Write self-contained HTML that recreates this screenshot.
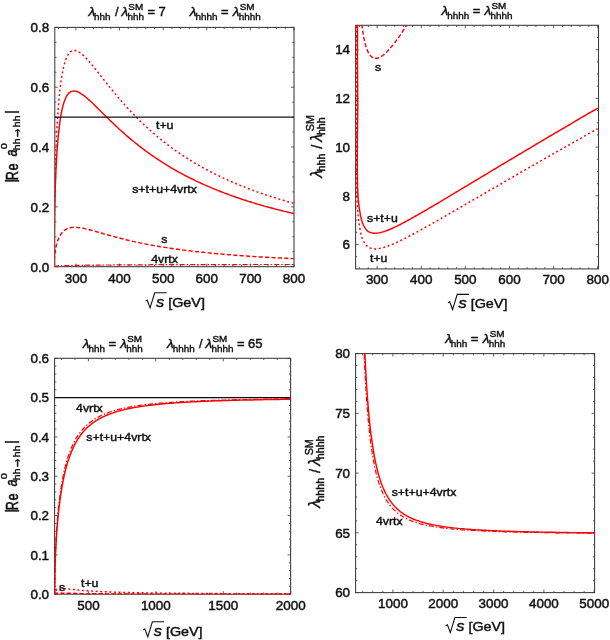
<!DOCTYPE html>
<html><head><meta charset="utf-8"><title>hh→hh unitarity</title>
<style>
html,body{margin:0;padding:0;background:#fff;}
body{width:610px;height:640px;overflow:hidden;}
svg{display:block;}
text{font-family:"Liberation Sans","DejaVu Sans",sans-serif;fill:#111;stroke:#111;stroke-width:0.42px;}
</style></head><body>
<svg width="610" height="640" viewBox="0 0 610 640">
<defs><filter id="soft" x="0" y="0" width="610" height="640" filterUnits="userSpaceOnUse"><feGaussianBlur stdDeviation="0.42"/></filter></defs>
<rect width="610" height="640" fill="#ffffff"/>
<g filter="url(#soft)">
<clipPath id="c1"><rect x="54.70" y="27.10" width="239.60" height="239.80"/></clipPath>
<path d="M75.90 266.70v-3.00M75.90 27.40v3.00M119.52 266.70v-3.00M119.52 27.40v3.00M163.14 266.70v-3.00M163.14 27.40v3.00M206.76 266.70v-3.00M206.76 27.40v3.00M250.38 266.70v-3.00M250.38 27.40v3.00M294.00 266.70v-3.00M294.00 27.40v3.00M58.45 266.70v-1.70M58.45 27.40v1.70M67.18 266.70v-1.70M67.18 27.40v1.70M84.62 266.70v-1.70M84.62 27.40v1.70M93.35 266.70v-1.70M93.35 27.40v1.70M102.07 266.70v-1.70M102.07 27.40v1.70M110.80 266.70v-1.70M110.80 27.40v1.70M128.24 266.70v-1.70M128.24 27.40v1.70M136.97 266.70v-1.70M136.97 27.40v1.70M145.69 266.70v-1.70M145.69 27.40v1.70M154.42 266.70v-1.70M154.42 27.40v1.70M171.86 266.70v-1.70M171.86 27.40v1.70M180.59 266.70v-1.70M180.59 27.40v1.70M189.31 266.70v-1.70M189.31 27.40v1.70M198.04 266.70v-1.70M198.04 27.40v1.70M215.48 266.70v-1.70M215.48 27.40v1.70M224.21 266.70v-1.70M224.21 27.40v1.70M232.93 266.70v-1.70M232.93 27.40v1.70M241.66 266.70v-1.70M241.66 27.40v1.70M259.10 266.70v-1.70M259.10 27.40v1.70M267.83 266.70v-1.70M267.83 27.40v1.70M276.55 266.70v-1.70M276.55 27.40v1.70M285.28 266.70v-1.70M285.28 27.40v1.70M54.80 266.70h3.00M294.00 266.70h-3.00M54.80 206.88h3.00M294.00 206.88h-3.00M54.80 147.05h3.00M294.00 147.05h-3.00M54.80 87.23h3.00M294.00 87.23h-3.00M54.80 27.40h3.00M294.00 27.40h-3.00M54.80 251.74h1.70M294.00 251.74h-1.70M54.80 236.79h1.70M294.00 236.79h-1.70M54.80 221.83h1.70M294.00 221.83h-1.70M54.80 191.92h1.70M294.00 191.92h-1.70M54.80 176.96h1.70M294.00 176.96h-1.70M54.80 162.01h1.70M294.00 162.01h-1.70M54.80 132.09h1.70M294.00 132.09h-1.70M54.80 117.14h1.70M294.00 117.14h-1.70M54.80 102.18h1.70M294.00 102.18h-1.70M54.80 72.27h1.70M294.00 72.27h-1.70M54.80 57.31h1.70M294.00 57.31h-1.70M54.80 42.36h1.70M294.00 42.36h-1.70" stroke="#3a3a3a" stroke-width="0.8" fill="none"/>
<rect x="54.80" y="27.40" width="239.20" height="239.30" fill="none" stroke="#3a3a3a" stroke-width="1.05"/>
<text transform="translate(75.90 282.70) scale(1.13 1)" font-size="11.9" text-anchor="middle">300</text>
<text transform="translate(119.52 282.70) scale(1.13 1)" font-size="11.9" text-anchor="middle">400</text>
<text transform="translate(163.14 282.70) scale(1.13 1)" font-size="11.9" text-anchor="middle">500</text>
<text transform="translate(206.76 282.70) scale(1.13 1)" font-size="11.9" text-anchor="middle">600</text>
<text transform="translate(250.38 282.70) scale(1.13 1)" font-size="11.9" text-anchor="middle">700</text>
<text transform="translate(294.00 282.70) scale(1.13 1)" font-size="11.9" text-anchor="middle">800</text>
<text transform="translate(49.30 271.50) scale(1.13 1)" font-size="11.9" text-anchor="end">0.0</text>
<text transform="translate(49.30 211.68) scale(1.13 1)" font-size="11.9" text-anchor="end">0.2</text>
<text transform="translate(49.30 151.85) scale(1.13 1)" font-size="11.9" text-anchor="end">0.4</text>
<text transform="translate(49.30 92.03) scale(1.13 1)" font-size="11.9" text-anchor="end">0.6</text>
<text transform="translate(49.30 32.20) scale(1.13 1)" font-size="11.9" text-anchor="end">0.8</text>
<path d="M54.1 266.2L54.2 246.1L54.2 237.6L54.3 231.2L54.4 225.8L54.5 221.2L54.5 217.0L54.6 213.2L54.7 209.7L54.8 206.4L54.8 203.4L54.9 200.5L55.0 197.8L55.1 195.2L55.1 192.7L55.2 190.4L55.3 188.2L55.3 186.0L55.4 183.9L55.5 181.9L55.6 180.0L55.6 178.1L55.7 176.3L55.8 174.6L55.9 172.9L55.9 171.3L56.0 169.7L56.1 168.2L56.2 166.7L56.2 165.2L56.3 163.8L56.4 162.4L56.5 161.1L56.5 159.8L56.6 158.5L56.7 157.2L56.8 156.0L56.8 154.8L56.9 153.7L57.0 152.5L57.0 151.4L57.1 150.3L57.2 149.3L57.3 148.3L57.3 147.2L57.4 146.2L57.5 145.3L57.6 144.3L57.6 143.4L57.7 142.5L57.8 141.6L57.9 140.7L57.9 139.8L58.0 139.0L58.1 138.2L58.2 137.3L58.2 136.5L58.3 135.8L58.4 135.0L58.5 134.2L58.5 134.2L59.6 123.8L60.8 115.9L62.0 109.7L63.2 104.9L64.4 101.1L65.6 98.2L66.7 95.9L67.9 94.2L69.1 92.9L70.3 92.0L71.5 91.4L72.7 91.1L73.8 91.0L75.0 91.1L76.2 91.3L77.4 91.7L78.6 92.2L79.8 92.9L80.9 93.6L82.1 94.3L83.3 95.2L84.5 96.1L85.7 97.0L86.9 98.0L88.0 99.1L89.2 100.1L90.4 101.2L91.6 102.3L92.8 103.4L94.0 104.6L95.1 105.7L96.3 106.9L97.5 108.0L98.7 109.2L99.9 110.4L101.1 111.6L102.2 112.7L103.4 113.9L104.6 115.1L105.8 116.2L107.0 117.4L108.2 118.6L109.3 119.7L110.5 120.9L111.7 122.0L112.9 123.1L114.1 124.3L115.3 125.4L116.5 126.5L117.6 127.6L118.8 128.7L120.0 129.8L121.2 130.8L122.4 131.9L123.6 132.9L124.7 134.0L125.9 135.0L127.1 136.1L128.3 137.1L129.5 138.1L130.7 139.1L131.8 140.1L133.0 141.0L134.2 142.0L135.4 143.0L136.6 143.9L137.8 144.9L138.9 145.8L140.1 146.7L141.3 147.6L142.5 148.5L143.7 149.4L144.9 150.3L146.0 151.2L147.2 152.0L148.4 152.9L149.6 153.7L150.8 154.6L152.0 155.4L153.1 156.2L154.3 157.0L155.5 157.8L156.7 158.6L157.9 159.4L159.1 160.2L160.2 161.0L161.4 161.7L162.6 162.5L163.8 163.2L165.0 164.0L166.2 164.7L167.3 165.4L168.5 166.2L169.7 166.9L170.9 167.6L172.1 168.3L173.3 168.9L174.5 169.6L175.6 170.3L176.8 171.0L178.0 171.6L179.2 172.3L180.4 172.9L181.6 173.6L182.7 174.2L183.9 174.8L185.1 175.5L186.3 176.1L187.5 176.7L188.7 177.3L189.8 177.9L191.0 178.5L192.2 179.0L193.4 179.6L194.6 180.2L195.8 180.8L196.9 181.3L198.1 181.9L199.3 182.4L200.5 183.0L201.7 183.5L202.9 184.1L204.0 184.6L205.2 185.1L206.4 185.6L207.6 186.1L208.8 186.7L210.0 187.2L211.1 187.7L212.3 188.2L213.5 188.7L214.7 189.1L215.9 189.6L217.1 190.1L218.2 190.6L219.4 191.0L220.6 191.5L221.8 192.0L223.0 192.4L224.2 192.9L225.3 193.3L226.5 193.8L227.7 194.2L228.9 194.6L230.1 195.1L231.3 195.5L232.4 195.9L233.6 196.3L234.8 196.8L236.0 197.2L237.2 197.6L238.4 198.0L239.6 198.4L240.7 198.8L241.9 199.2L243.1 199.6L244.3 200.0L245.5 200.3L246.7 200.7L247.8 201.1L249.0 201.5L250.2 201.8L251.4 202.2L252.6 202.6L253.8 202.9L254.9 203.3L256.1 203.7L257.3 204.0L258.5 204.4L259.7 204.7L260.9 205.0L262.0 205.4L263.2 205.7L264.4 206.1L265.6 206.4L266.8 206.7L268.0 207.0L269.1 207.4L270.3 207.7L271.5 208.0L272.7 208.3L273.9 208.6L275.1 209.0L276.2 209.3L277.4 209.6L278.6 209.9L279.8 210.2L281.0 210.5L282.2 210.8L283.3 211.1L284.5 211.4L285.7 211.6L286.9 211.9L288.1 212.2L289.3 212.5L290.4 212.8L291.6 213.1L292.8 213.3L294.0 213.6" fill="none" stroke="#ff0000" stroke-width="1.45" clip-path="url(#c1)"/>
<path d="M54.1 266.1L54.2 241.8L54.2 231.6L54.3 223.9L54.4 217.4L54.5 211.8L54.5 206.7L54.6 202.1L54.7 197.9L54.8 194.0L54.8 190.3L54.9 186.8L55.0 183.5L55.1 180.3L55.1 177.4L55.2 174.5L55.3 171.8L55.3 169.2L55.4 166.6L55.5 164.2L55.6 161.9L55.6 159.6L55.7 157.4L55.8 155.3L55.9 153.2L55.9 151.2L56.0 149.3L56.1 147.4L56.2 145.6L56.2 143.8L56.3 142.1L56.4 140.4L56.5 138.7L56.5 137.1L56.6 135.6L56.7 134.0L56.8 132.5L56.8 131.1L56.9 129.6L57.0 128.3L57.0 126.9L57.1 125.6L57.2 124.2L57.3 123.0L57.3 121.7L57.4 120.5L57.5 119.3L57.6 118.1L57.6 117.0L57.7 115.8L57.8 114.7L57.9 113.6L57.9 112.6L58.0 111.5L58.1 110.5L58.2 109.5L58.2 108.5L58.3 107.5L58.4 106.6L58.5 105.6L58.5 105.6L59.6 92.7L60.8 82.7L62.0 74.9L63.2 68.7L64.4 63.9L65.6 60.1L66.7 57.1L67.9 54.9L69.1 53.1L70.3 51.9L71.5 51.1L72.7 50.6L73.8 50.4L75.0 50.5L76.2 50.7L77.4 51.2L78.6 51.8L79.8 52.5L80.9 53.4L82.1 54.4L83.3 55.4L84.5 56.6L85.7 57.7L86.9 59.0L88.0 60.3L89.2 61.6L90.4 63.0L91.6 64.4L92.8 65.8L94.0 67.3L95.1 68.7L96.3 70.2L97.5 71.7L98.7 73.2L99.9 74.7L101.1 76.2L102.2 77.7L103.4 79.2L104.6 80.7L105.8 82.2L107.0 83.7L108.2 85.2L109.3 86.6L110.5 88.1L111.7 89.5L112.9 91.0L114.1 92.4L115.3 93.9L116.5 95.3L117.6 96.7L118.8 98.1L120.0 99.5L121.2 100.8L122.4 102.2L123.6 103.5L124.7 104.9L125.9 106.2L127.1 107.5L128.3 108.8L129.5 110.1L130.7 111.3L131.8 112.6L133.0 113.8L134.2 115.0L135.4 116.3L136.6 117.5L137.8 118.7L138.9 119.8L140.1 121.0L141.3 122.1L142.5 123.3L143.7 124.4L144.9 125.5L146.0 126.6L147.2 127.7L148.4 128.8L149.6 129.9L150.8 130.9L152.0 132.0L153.1 133.0L154.3 134.0L155.5 135.0L156.7 136.0L157.9 137.0L159.1 138.0L160.2 139.0L161.4 139.9L162.6 140.9L163.8 141.8L165.0 142.7L166.2 143.6L167.3 144.5L168.5 145.4L169.7 146.3L170.9 147.2L172.1 148.1L173.3 148.9L174.5 149.8L175.6 150.6L176.8 151.4L178.0 152.2L179.2 153.1L180.4 153.9L181.6 154.6L182.7 155.4L183.9 156.2L185.1 157.0L186.3 157.7L187.5 158.5L188.7 159.2L189.8 160.0L191.0 160.7L192.2 161.4L193.4 162.1L194.6 162.8L195.8 163.5L196.9 164.2L198.1 164.9L199.3 165.6L200.5 166.3L201.7 166.9L202.9 167.6L204.0 168.2L205.2 168.9L206.4 169.5L207.6 170.2L208.8 170.8L210.0 171.4L211.1 172.0L212.3 172.6L213.5 173.2L214.7 173.8L215.9 174.4L217.1 175.0L218.2 175.6L219.4 176.1L220.6 176.7L221.8 177.3L223.0 177.8L224.2 178.4L225.3 178.9L226.5 179.5L227.7 180.0L228.9 180.5L230.1 181.1L231.3 181.6L232.4 182.1L233.6 182.6L234.8 183.1L236.0 183.6L237.2 184.1L238.4 184.6L239.6 185.1L240.7 185.6L241.9 186.0L243.1 186.5L244.3 187.0L245.5 187.4L246.7 187.9L247.8 188.4L249.0 188.8L250.2 189.3L251.4 189.7L252.6 190.1L253.8 190.6L254.9 191.0L256.1 191.4L257.3 191.9L258.5 192.3L259.7 192.7L260.9 193.1L262.0 193.5L263.2 193.9L264.4 194.3L265.6 194.7L266.8 195.1L268.0 195.5L269.1 195.9L270.3 196.3L271.5 196.7L272.7 197.1L273.9 197.4L275.1 197.8L276.2 198.2L277.4 198.5L278.6 198.9L279.8 199.3L281.0 199.6L282.2 200.0L283.3 200.3L284.5 200.7L285.7 201.0L286.9 201.4L288.1 201.7L289.3 202.0L290.4 202.4L291.6 202.7L292.8 203.0L294.0 203.4" fill="none" stroke="#ff0000" stroke-width="1.45" stroke-dasharray="2 2.6" clip-path="url(#c1)"/>
<path d="M54.1 266.6L54.2 262.5L54.2 260.8L54.3 259.5L54.4 258.5L54.5 257.5L54.5 256.7L54.6 255.9L54.7 255.2L54.8 254.5L54.8 253.8L54.9 253.3L55.0 252.7L55.1 252.1L55.1 251.6L55.2 251.1L55.3 250.7L55.3 250.2L55.4 249.8L55.5 249.3L55.6 248.9L55.6 248.5L55.7 248.2L55.8 247.8L55.9 247.4L55.9 247.1L56.0 246.7L56.1 246.4L56.2 246.1L56.2 245.7L56.3 245.4L56.4 245.1L56.5 244.8L56.5 244.5L56.6 244.3L56.7 244.0L56.8 243.7L56.8 243.4L56.9 243.2L57.0 242.9L57.0 242.7L57.1 242.4L57.2 242.2L57.3 242.0L57.3 241.7L57.4 241.5L57.5 241.3L57.6 241.1L57.6 240.9L57.7 240.6L57.8 240.4L57.9 240.2L57.9 240.0L58.0 239.8L58.1 239.6L58.2 239.5L58.2 239.3L58.3 239.1L58.4 238.9L58.5 238.7L58.5 238.7L59.6 236.2L60.8 234.3L62.0 232.7L63.2 231.4L64.4 230.4L65.6 229.6L66.7 228.9L67.9 228.4L69.1 228.0L70.3 227.7L71.5 227.5L72.7 227.4L73.8 227.3L75.0 227.3L76.2 227.4L77.4 227.5L78.6 227.6L79.8 227.7L80.9 227.9L82.1 228.1L83.3 228.3L84.5 228.6L85.7 228.9L86.9 229.1L88.0 229.4L89.2 229.7L90.4 230.0L91.6 230.3L92.8 230.7L94.0 231.0L95.1 231.3L96.3 231.6L97.5 232.0L98.7 232.3L99.9 232.7L101.1 233.0L102.2 233.3L103.4 233.7L104.6 234.0L105.8 234.3L107.0 234.7L108.2 235.0L109.3 235.3L110.5 235.7L111.7 236.0L112.9 236.3L114.1 236.6L115.3 237.0L116.5 237.3L117.6 237.6L118.8 237.9L120.0 238.2L121.2 238.5L122.4 238.8L123.6 239.1L124.7 239.4L125.9 239.7L127.1 240.0L128.3 240.3L129.5 240.5L130.7 240.8L131.8 241.1L133.0 241.4L134.2 241.6L135.4 241.9L136.6 242.1L137.8 242.4L138.9 242.6L140.1 242.9L141.3 243.1L142.5 243.4L143.7 243.6L144.9 243.9L146.0 244.1L147.2 244.3L148.4 244.6L149.6 244.8L150.8 245.0L152.0 245.2L153.1 245.4L154.3 245.6L155.5 245.9L156.7 246.1L157.9 246.3L159.1 246.5L160.2 246.7L161.4 246.9L162.6 247.1L163.8 247.2L165.0 247.4L166.2 247.6L167.3 247.8L168.5 248.0L169.7 248.2L170.9 248.3L172.1 248.5L173.3 248.7L174.5 248.9L175.6 249.0L176.8 249.2L178.0 249.3L179.2 249.5L180.4 249.7L181.6 249.8L182.7 250.0L183.9 250.1L185.1 250.3L186.3 250.4L187.5 250.6L188.7 250.7L189.8 250.9L191.0 251.0L192.2 251.1L193.4 251.3L194.6 251.4L195.8 251.6L196.9 251.7L198.1 251.8L199.3 251.9L200.5 252.1L201.7 252.2L202.9 252.3L204.0 252.4L205.2 252.6L206.4 252.7L207.6 252.8L208.8 252.9L210.0 253.0L211.1 253.2L212.3 253.3L213.5 253.4L214.7 253.5L215.9 253.6L217.1 253.7L218.2 253.8L219.4 253.9L220.6 254.0L221.8 254.1L223.0 254.2L224.2 254.3L225.3 254.4L226.5 254.5L227.7 254.6L228.9 254.7L230.1 254.8L231.3 254.9L232.4 255.0L233.6 255.1L234.8 255.2L236.0 255.3L237.2 255.4L238.4 255.4L239.6 255.5L240.7 255.6L241.9 255.7L243.1 255.8L244.3 255.9L245.5 255.9L246.7 256.0L247.8 256.1L249.0 256.2L250.2 256.3L251.4 256.3L252.6 256.4L253.8 256.5L254.9 256.6L256.1 256.6L257.3 256.7L258.5 256.8L259.7 256.9L260.9 256.9L262.0 257.0L263.2 257.1L264.4 257.1L265.6 257.2L266.8 257.3L268.0 257.3L269.1 257.4L270.3 257.5L271.5 257.5L272.7 257.6L273.9 257.7L275.1 257.7L276.2 257.8L277.4 257.8L278.6 257.9L279.8 258.0L281.0 258.0L282.2 258.1L283.3 258.1L284.5 258.2L285.7 258.3L286.9 258.3L288.1 258.4L289.3 258.4L290.4 258.5L291.6 258.5L292.8 258.6L294.0 258.6" fill="none" stroke="#ff0000" stroke-width="1.45" stroke-dasharray="4.2 2.2" clip-path="url(#c1)"/>
<path d="M54.1 266.7L54.2 266.6L54.2 266.6L54.3 266.6L54.4 266.5L54.5 266.5L54.5 266.5L54.6 266.5L54.7 266.5L54.8 266.4L54.8 266.4L54.9 266.4L55.0 266.4L55.1 266.4L55.1 266.4L55.2 266.4L55.3 266.4L55.3 266.4L55.4 266.3L55.5 266.3L55.6 266.3L55.6 266.3L55.7 266.3L55.8 266.3L55.9 266.3L55.9 266.3L56.0 266.3L56.1 266.3L56.2 266.3L56.2 266.2L56.3 266.2L56.4 266.2L56.5 266.2L56.5 266.2L56.6 266.2L56.7 266.2L56.8 266.2L56.8 266.2L56.9 266.2L57.0 266.2L57.0 266.2L57.1 266.2L57.2 266.2L57.3 266.2L57.3 266.1L57.4 266.1L57.5 266.1L57.6 266.1L57.6 266.1L57.7 266.1L57.8 266.1L57.9 266.1L57.9 266.1L58.0 266.1L58.1 266.1L58.2 266.1L58.2 266.1L58.3 266.1L58.4 266.1L58.5 266.1L58.5 266.1L59.6 266.0L60.8 265.9L62.0 265.9L63.2 265.8L64.4 265.8L65.6 265.7L66.7 265.7L67.9 265.6L69.1 265.6L70.3 265.6L71.5 265.5L72.7 265.5L73.8 265.5L75.0 265.4L76.2 265.4L77.4 265.4L78.6 265.4L79.8 265.3L80.9 265.3L82.1 265.3L83.3 265.3L84.5 265.3L85.7 265.2L86.9 265.2L88.0 265.2L89.2 265.2L90.4 265.2L91.6 265.2L92.8 265.1L94.0 265.1L95.1 265.1L96.3 265.1L97.5 265.1L98.7 265.1L99.9 265.1L101.1 265.1L102.2 265.0L103.4 265.0L104.6 265.0L105.8 265.0L107.0 265.0L108.2 265.0L109.3 265.0L110.5 265.0L111.7 265.0L112.9 264.9L114.1 264.9L115.3 264.9L116.5 264.9L117.6 264.9L118.8 264.9L120.0 264.9L121.2 264.9L122.4 264.9L123.6 264.9L124.7 264.9L125.9 264.9L127.1 264.9L128.3 264.8L129.5 264.8L130.7 264.8L131.8 264.8L133.0 264.8L134.2 264.8L135.4 264.8L136.6 264.8L137.8 264.8L138.9 264.8L140.1 264.8L141.3 264.8L142.5 264.8L143.7 264.8L144.9 264.8L146.0 264.8L147.2 264.8L148.4 264.8L149.6 264.8L150.8 264.7L152.0 264.7L153.1 264.7L154.3 264.7L155.5 264.7L156.7 264.7L157.9 264.7L159.1 264.7L160.2 264.7L161.4 264.7L162.6 264.7L163.8 264.7L165.0 264.7L166.2 264.7L167.3 264.7L168.5 264.7L169.7 264.7L170.9 264.7L172.1 264.7L173.3 264.7L174.5 264.7L175.6 264.7L176.8 264.7L178.0 264.7L179.2 264.7L180.4 264.7L181.6 264.7L182.7 264.7L183.9 264.6L185.1 264.6L186.3 264.6L187.5 264.6L188.7 264.6L189.8 264.6L191.0 264.6L192.2 264.6L193.4 264.6L194.6 264.6L195.8 264.6L196.9 264.6L198.1 264.6L199.3 264.6L200.5 264.6L201.7 264.6L202.9 264.6L204.0 264.6L205.2 264.6L206.4 264.6L207.6 264.6L208.8 264.6L210.0 264.6L211.1 264.6L212.3 264.6L213.5 264.6L214.7 264.6L215.9 264.6L217.1 264.6L218.2 264.6L219.4 264.6L220.6 264.6L221.8 264.6L223.0 264.6L224.2 264.6L225.3 264.6L226.5 264.6L227.7 264.6L228.9 264.6L230.1 264.6L231.3 264.6L232.4 264.6L233.6 264.6L234.8 264.6L236.0 264.6L237.2 264.6L238.4 264.6L239.6 264.6L240.7 264.6L241.9 264.6L243.1 264.6L244.3 264.6L245.5 264.6L246.7 264.6L247.8 264.5L249.0 264.5L250.2 264.5L251.4 264.5L252.6 264.5L253.8 264.5L254.9 264.5L256.1 264.5L257.3 264.5L258.5 264.5L259.7 264.5L260.9 264.5L262.0 264.5L263.2 264.5L264.4 264.5L265.6 264.5L266.8 264.5L268.0 264.5L269.1 264.5L270.3 264.5L271.5 264.5L272.7 264.5L273.9 264.5L275.1 264.5L276.2 264.5L277.4 264.5L278.6 264.5L279.8 264.5L281.0 264.5L282.2 264.5L283.3 264.5L284.5 264.5L285.7 264.5L286.9 264.5L288.1 264.5L289.3 264.5L290.4 264.5L291.6 264.5L292.8 264.5L294.0 264.5" fill="none" stroke="#ff0000" stroke-width="1.2" stroke-dasharray="5 2 1.5 2" clip-path="url(#c1)"/>
<path d="M54.80 117.14H294.00" stroke="#111" stroke-width="1.4"/>
<text transform="translate(156.00 129.20) scale(1.13 1)" font-size="10.9">t+u</text>
<text transform="translate(132.20 193.40) scale(1.13 1)" font-size="10.9">s+t+u+4vrtx</text>
<text transform="translate(161.20 243.00) scale(1.13 1)" font-size="10.9">s</text>
<text transform="translate(151.20 262.50) scale(1.13 1)" font-size="10.9">4vrtx</text>
<clipPath id="c2"><rect x="355.50" y="25.00" width="243.30" height="244.10"/></clipPath>
<path d="M377.10 268.90v-3.00M377.10 25.30v3.00M421.22 268.90v-3.00M421.22 25.30v3.00M465.34 268.90v-3.00M465.34 25.30v3.00M509.46 268.90v-3.00M509.46 25.30v3.00M553.58 268.90v-3.00M553.58 25.30v3.00M597.70 268.90v-3.00M597.70 25.30v3.00M359.45 268.90v-1.70M359.45 25.30v1.70M368.28 268.90v-1.70M368.28 25.30v1.70M385.92 268.90v-1.70M385.92 25.30v1.70M394.75 268.90v-1.70M394.75 25.30v1.70M403.57 268.90v-1.70M403.57 25.30v1.70M412.40 268.90v-1.70M412.40 25.30v1.70M430.04 268.90v-1.70M430.04 25.30v1.70M438.87 268.90v-1.70M438.87 25.30v1.70M447.69 268.90v-1.70M447.69 25.30v1.70M456.52 268.90v-1.70M456.52 25.30v1.70M474.16 268.90v-1.70M474.16 25.30v1.70M482.99 268.90v-1.70M482.99 25.30v1.70M491.81 268.90v-1.70M491.81 25.30v1.70M500.64 268.90v-1.70M500.64 25.30v1.70M518.28 268.90v-1.70M518.28 25.30v1.70M527.11 268.90v-1.70M527.11 25.30v1.70M535.93 268.90v-1.70M535.93 25.30v1.70M544.76 268.90v-1.70M544.76 25.30v1.70M562.40 268.90v-1.70M562.40 25.30v1.70M571.23 268.90v-1.70M571.23 25.30v1.70M580.05 268.90v-1.70M580.05 25.30v1.70M588.88 268.90v-1.70M588.88 25.30v1.70M355.60 244.54h3.00M598.50 244.54h-3.00M355.60 195.82h3.00M598.50 195.82h-3.00M355.60 147.10h3.00M598.50 147.10h-3.00M355.60 98.38h3.00M598.50 98.38h-3.00M355.60 49.66h3.00M598.50 49.66h-3.00M355.60 256.72h1.70M598.50 256.72h-1.70M355.60 232.36h1.70M598.50 232.36h-1.70M355.60 220.18h1.70M598.50 220.18h-1.70M355.60 208.00h1.70M598.50 208.00h-1.70M355.60 183.64h1.70M598.50 183.64h-1.70M355.60 171.46h1.70M598.50 171.46h-1.70M355.60 159.28h1.70M598.50 159.28h-1.70M355.60 134.92h1.70M598.50 134.92h-1.70M355.60 122.74h1.70M598.50 122.74h-1.70M355.60 110.56h1.70M598.50 110.56h-1.70M355.60 86.20h1.70M598.50 86.20h-1.70M355.60 74.02h1.70M598.50 74.02h-1.70M355.60 61.84h1.70M598.50 61.84h-1.70M355.60 37.48h1.70M598.50 37.48h-1.70" stroke="#3a3a3a" stroke-width="0.8" fill="none"/>
<rect x="355.60" y="25.30" width="242.90" height="243.60" fill="none" stroke="#3a3a3a" stroke-width="1.05"/>
<text transform="translate(377.10 283.90) scale(1.13 1)" font-size="11.9" text-anchor="middle">300</text>
<text transform="translate(421.22 283.90) scale(1.13 1)" font-size="11.9" text-anchor="middle">400</text>
<text transform="translate(465.34 283.90) scale(1.13 1)" font-size="11.9" text-anchor="middle">500</text>
<text transform="translate(509.46 283.90) scale(1.13 1)" font-size="11.9" text-anchor="middle">600</text>
<text transform="translate(553.58 283.90) scale(1.13 1)" font-size="11.9" text-anchor="middle">700</text>
<text transform="translate(597.70 283.90) scale(1.13 1)" font-size="11.9" text-anchor="middle">800</text>
<text transform="translate(350.10 249.34) scale(1.13 1)" font-size="11.9" text-anchor="end">6</text>
<text transform="translate(350.10 200.62) scale(1.13 1)" font-size="11.9" text-anchor="end">8</text>
<text transform="translate(350.10 151.90) scale(1.13 1)" font-size="11.9" text-anchor="end">10</text>
<text transform="translate(350.10 103.18) scale(1.13 1)" font-size="11.9" text-anchor="end">12</text>
<text transform="translate(350.10 54.46) scale(1.13 1)" font-size="11.9" text-anchor="end">14</text>
<path d="M357.2 -2543.7L357.3 -67.5L357.4 4.7L357.5 41.3L357.5 65.0L357.6 82.1L357.7 95.3L357.8 106.0L357.7 114.9L357.6 122.4L357.5 129.0L357.4 134.7L357.4 139.8L357.3 144.3L357.3 148.5L357.3 152.2L357.3 155.6L357.3 158.8L357.3 161.7L357.3 164.4L357.3 166.9L357.3 169.3L357.3 171.5L357.3 173.6L357.4 175.5L357.4 177.4L357.4 179.1L357.4 180.8L357.5 182.3L357.5 183.8L357.6 185.3L357.6 186.6L357.6 187.9L357.7 189.2L357.7 190.4L357.8 191.5L357.8 192.6L357.9 193.6L357.9 194.7L358.0 195.6L358.0 196.6L358.1 197.5L358.2 198.3L358.3 199.2L358.3 200.0L358.4 200.8L358.5 201.5L358.6 202.3L358.6 203.0L358.7 203.7L358.8 204.3L358.9 205.0L358.9 205.6L359.0 206.2L359.1 206.8L359.2 207.4L359.2 208.0L359.3 208.5L359.4 209.0L359.5 209.6L359.5 209.6L360.6 216.2L361.8 220.9L363.0 224.2L364.2 226.7L365.4 228.6L366.6 230.0L367.8 231.1L369.0 231.8L370.2 232.4L371.4 232.8L372.6 233.1L373.8 233.2L375.0 233.3L376.2 233.2L377.4 233.1L378.6 232.9L379.8 232.7L381.0 232.4L382.2 232.1L383.4 231.8L384.6 231.4L385.8 230.9L387.0 230.5L388.2 230.0L389.4 229.5L390.6 229.0L391.8 228.5L393.0 228.0L394.2 227.4L395.4 226.9L396.6 226.3L397.8 225.7L399.0 225.1L400.2 224.5L401.4 223.9L402.6 223.2L403.7 222.6L404.9 222.0L406.1 221.3L407.3 220.7L408.5 220.0L409.7 219.4L410.9 218.7L412.1 218.0L413.3 217.4L414.5 216.7L415.7 216.0L416.9 215.3L418.1 214.7L419.3 214.0L420.5 213.3L421.7 212.6L422.9 211.9L424.1 211.2L425.3 210.5L426.5 209.8L427.7 209.1L428.9 208.4L430.1 207.7L431.3 207.0L432.5 206.3L433.7 205.6L434.9 204.9L436.1 204.2L437.3 203.5L438.5 202.8L439.7 202.0L440.9 201.3L442.1 200.6L443.3 199.9L444.5 199.2L445.7 198.5L446.8 197.8L448.0 197.0L449.2 196.3L450.4 195.6L451.6 194.9L452.8 194.2L454.0 193.5L455.2 192.7L456.4 192.0L457.6 191.3L458.8 190.6L460.0 189.9L461.2 189.2L462.4 188.4L463.6 187.7L464.8 187.0L466.0 186.3L467.2 185.6L468.4 184.8L469.6 184.1L470.8 183.4L472.0 182.7L473.2 182.0L474.4 181.2L475.6 180.5L476.8 179.8L478.0 179.1L479.2 178.4L480.4 177.6L481.6 176.9L482.8 176.2L484.0 175.5L485.2 174.8L486.4 174.0L487.6 173.3L488.8 172.6L489.9 171.9L491.1 171.2L492.3 170.5L493.5 169.7L494.7 169.0L495.9 168.3L497.1 167.6L498.3 166.9L499.5 166.2L500.7 165.4L501.9 164.7L503.1 164.0L504.3 163.3L505.5 162.6L506.7 161.9L507.9 161.1L509.1 160.4L510.3 159.7L511.5 159.0L512.7 158.3L513.9 157.6L515.1 156.8L516.3 156.1L517.5 155.4L518.7 154.7L519.9 154.0L521.1 153.3L522.3 152.6L523.5 151.9L524.7 151.1L525.9 150.4L527.1 149.7L528.3 149.0L529.5 148.3L530.7 147.6L531.9 146.9L533.0 146.2L534.2 145.5L535.4 144.7L536.6 144.0L537.8 143.3L539.0 142.6L540.2 141.9L541.4 141.2L542.6 140.5L543.8 139.8L545.0 139.1L546.2 138.4L547.4 137.7L548.6 136.9L549.8 136.2L551.0 135.5L552.2 134.8L553.4 134.1L554.6 133.4L555.8 132.7L557.0 132.0L558.2 131.3L559.4 130.6L560.6 129.9L561.8 129.2L563.0 128.5L564.2 127.8L565.4 127.1L566.6 126.4L567.8 125.7L569.0 125.0L570.2 124.3L571.4 123.6L572.6 122.9L573.8 122.2L575.0 121.4L576.1 120.7L577.3 120.0L578.5 119.3L579.7 118.6L580.9 117.9L582.1 117.2L583.3 116.5L584.5 115.8L585.7 115.1L586.9 114.4L588.1 113.7L589.3 113.0L590.5 112.4L591.7 111.7L592.9 111.0L594.1 110.3L595.3 109.6L596.5 108.9L597.7 108.2" fill="none" stroke="#ff0000" stroke-width="1.45" clip-path="url(#c2)"/>
<path d="M356.2 -2288.0L356.3 -27.4L356.3 38.5L356.4 72.0L356.5 93.6L356.6 109.3L356.5 121.4L356.4 131.2L356.4 139.3L356.4 146.2L356.4 152.2L356.4 157.4L356.4 162.1L356.4 166.3L356.4 170.1L356.5 173.5L356.5 176.7L356.5 179.5L356.6 182.2L356.6 184.7L356.7 187.0L356.7 189.2L356.7 191.2L356.8 193.1L356.8 194.9L356.9 196.6L357.0 198.2L357.1 199.8L357.1 201.2L357.2 202.6L357.3 203.9L357.4 205.2L357.4 206.4L357.5 207.5L357.6 208.6L357.7 209.7L357.7 210.7L357.8 211.6L357.9 212.6L358.0 213.5L358.0 214.3L358.1 215.2L358.2 216.0L358.3 216.8L358.3 217.5L358.4 218.2L358.5 218.9L358.6 219.6L358.6 220.3L358.7 220.9L358.8 221.5L358.9 222.1L358.9 222.7L359.0 223.3L359.1 223.8L359.2 224.4L359.2 224.9L359.3 225.4L359.4 225.9L359.5 226.4L359.5 226.4L360.6 232.6L361.8 237.0L363.0 240.1L364.2 242.5L365.4 244.3L366.6 245.6L367.8 246.6L369.0 247.4L370.2 248.0L371.4 248.4L372.6 248.7L373.8 248.8L375.0 248.9L376.2 248.9L377.4 248.8L378.6 248.6L379.8 248.4L381.0 248.2L382.2 247.9L383.4 247.6L384.6 247.2L385.8 246.8L387.0 246.4L388.2 246.0L389.4 245.5L390.6 245.1L391.8 244.6L393.0 244.1L394.2 243.6L395.4 243.0L396.6 242.5L397.8 241.9L399.0 241.4L400.2 240.8L401.4 240.2L402.6 239.6L403.7 239.0L404.9 238.4L406.1 237.8L407.3 237.2L408.5 236.6L409.7 235.9L410.9 235.3L412.1 234.7L413.3 234.0L414.5 233.4L415.7 232.7L416.9 232.1L418.1 231.4L419.3 230.8L420.5 230.1L421.7 229.4L422.9 228.8L424.1 228.1L425.3 227.4L426.5 226.8L427.7 226.1L428.9 225.4L430.1 224.8L431.3 224.1L432.5 223.4L433.7 222.7L434.9 222.0L436.1 221.4L437.3 220.7L438.5 220.0L439.7 219.3L440.9 218.6L442.1 217.9L443.3 217.3L444.5 216.6L445.7 215.9L446.8 215.2L448.0 214.5L449.2 213.8L450.4 213.1L451.6 212.4L452.8 211.7L454.0 211.0L455.2 210.4L456.4 209.7L457.6 209.0L458.8 208.3L460.0 207.6L461.2 206.9L462.4 206.2L463.6 205.5L464.8 204.8L466.0 204.1L467.2 203.4L468.4 202.7L469.6 202.0L470.8 201.3L472.0 200.6L473.2 199.9L474.4 199.3L475.6 198.6L476.8 197.9L478.0 197.2L479.2 196.5L480.4 195.8L481.6 195.1L482.8 194.4L484.0 193.7L485.2 193.0L486.4 192.3L487.6 191.6L488.8 190.9L489.9 190.2L491.1 189.5L492.3 188.8L493.5 188.1L494.7 187.5L495.9 186.8L497.1 186.1L498.3 185.4L499.5 184.7L500.7 184.0L501.9 183.3L503.1 182.6L504.3 181.9L505.5 181.2L506.7 180.5L507.9 179.8L509.1 179.1L510.3 178.5L511.5 177.8L512.7 177.1L513.9 176.4L515.1 175.7L516.3 175.0L517.5 174.3L518.7 173.6L519.9 172.9L521.1 172.2L522.3 171.6L523.5 170.9L524.7 170.2L525.9 169.5L527.1 168.8L528.3 168.1L529.5 167.4L530.7 166.7L531.9 166.1L533.0 165.4L534.2 164.7L535.4 164.0L536.6 163.3L537.8 162.6L539.0 161.9L540.2 161.3L541.4 160.6L542.6 159.9L543.8 159.2L545.0 158.5L546.2 157.8L547.4 157.1L548.6 156.5L549.8 155.8L551.0 155.1L552.2 154.4L553.4 153.7L554.6 153.0L555.8 152.4L557.0 151.7L558.2 151.0L559.4 150.3L560.6 149.6L561.8 149.0L563.0 148.3L564.2 147.6L565.4 146.9L566.6 146.2L567.8 145.6L569.0 144.9L570.2 144.2L571.4 143.5L572.6 142.8L573.8 142.2L575.0 141.5L576.1 140.8L577.3 140.1L578.5 139.5L579.7 138.8L580.9 138.1L582.1 137.4L583.3 136.7L584.5 136.1L585.7 135.4L586.9 134.7L588.1 134.0L589.3 133.4L590.5 132.7L591.7 132.0L592.9 131.3L594.1 130.7L595.3 130.0L596.5 129.3L597.7 128.7" fill="none" stroke="#ff0000" stroke-width="1.45" stroke-dasharray="2 2.6" clip-path="url(#c2)"/>
<path d="M355.0 -6170.8L355.1 -633.0L355.2 -471.2L355.3 -389.0L355.3 -335.7L355.4 -297.1L355.5 -267.2L355.6 -243.1L355.6 -223.0L355.7 -205.9L355.8 -191.0L355.9 -178.0L355.9 -166.4L356.0 -156.0L356.1 -146.5L356.2 -138.0L356.2 -130.1L356.3 -122.8L356.4 -116.1L356.5 -109.9L356.5 -104.1L356.6 -98.6L356.7 -93.5L356.8 -88.7L356.8 -84.2L356.9 -79.9L357.0 -75.8L357.1 -72.0L357.1 -68.3L357.2 -64.8L357.3 -61.5L357.4 -58.3L357.4 -55.2L357.5 -52.3L357.6 -49.5L357.7 -46.8L357.7 -44.2L357.8 -41.7L357.9 -39.3L358.0 -37.0L358.0 -34.8L358.1 -32.7L358.2 -30.6L358.3 -28.6L358.3 -26.6L358.4 -24.8L358.5 -22.9L358.6 -21.2L358.6 -19.5L358.7 -17.8L358.8 -16.2L358.9 -14.6L358.9 -13.1L359.0 -11.6L359.1 -10.2L359.2 -8.8L359.2 -7.4L359.3 -6.1L359.4 -4.8L359.5 -3.6L359.5 -3.6L360.6 12.9L361.8 24.5L363.0 33.1L364.2 39.6L365.4 44.6L366.6 48.4L367.8 51.4L369.0 53.7L370.2 55.4L371.4 56.6L372.6 57.5L373.8 58.0L375.0 58.3L376.2 58.3L377.4 58.2L378.6 57.8L379.8 57.3L381.0 56.6L382.2 55.9L383.4 55.0L384.6 54.0L385.8 52.9L387.0 51.7L388.2 50.5L389.4 49.2L390.6 47.8L391.8 46.4L393.0 44.9L394.2 43.3L395.4 41.8L396.6 40.1L397.8 38.5L399.0 36.8L400.2 35.1L401.4 33.3L402.6 31.5L403.7 29.7L404.9 27.9L406.1 26.0L407.3 24.1L408.5 22.2L409.7 20.3L410.9 18.3L412.1 16.3L413.3 14.4L414.5 12.4L415.7 10.3L416.9 8.3L418.1 6.3L419.3 4.2L420.5 2.1L421.7 0.1L422.9 -2.0L424.1 -4.1L425.3 -6.3L426.5 -8.4L427.7 -10.5L428.9 -12.7L430.1 -14.8L431.3 -17.0L432.5 -19.1L433.7 -21.3L434.9 -23.5L436.1 -25.7L437.3 -27.9L438.5 -30.1L439.7 -32.3L440.9 -34.5L442.1 -36.7L443.3 -38.9L444.5 -41.2L445.7 -43.4L446.8 -45.7L448.0 -47.9L449.2 -50.2L450.4 -52.4L451.6 -54.7L452.8 -56.9L454.0 -59.2L455.2 -61.5L456.4 -63.8L457.6 -66.0L458.8 -68.3L460.0 -70.6L461.2 -72.9L462.4 -75.2L463.6 -77.5L464.8 -79.8L466.0 -82.1L467.2 -84.4L468.4 -86.7L469.6 -89.0L470.8 -91.3L472.0 -93.7L473.2 -96.0L474.4 -98.3L475.6 -100.6L476.8 -102.9L478.0 -105.3L479.2 -107.6L480.4 -109.9L481.6 -112.3L482.8 -114.6L484.0 -117.0L485.2 -119.3L486.4 -121.6L487.6 -124.0L488.8 -126.3L489.9 -128.7L491.1 -131.0L492.3 -133.4L493.5 -135.7L494.7 -138.1L495.9 -140.4L497.1 -142.8L498.3 -145.2L499.5 -147.5L500.7 -149.9L501.9 -152.2L503.1 -154.6L504.3 -157.0L505.5 -159.3L506.7 -161.7L507.9 -164.1L509.1 -166.5L510.3 -168.8L511.5 -171.2L512.7 -173.6L513.9 -176.0L515.1 -178.3L516.3 -180.7L517.5 -183.1L518.7 -185.5L519.9 -187.9L521.1 -190.2L522.3 -192.6L523.5 -195.0L524.7 -197.4L525.9 -199.8L527.1 -202.2L528.3 -204.5L529.5 -206.9L530.7 -209.3L531.9 -211.7L533.0 -214.1L534.2 -216.5L535.4 -218.9L536.6 -221.3L537.8 -223.7L539.0 -226.1L540.2 -228.5L541.4 -230.9L542.6 -233.3L543.8 -235.7L545.0 -238.1L546.2 -240.5L547.4 -242.9L548.6 -245.3L549.8 -247.7L551.0 -250.1L552.2 -252.5L553.4 -254.9L554.6 -257.3L555.8 -259.7L557.0 -262.1L558.2 -264.5L559.4 -266.9L560.6 -269.3L561.8 -271.7L563.0 -274.1L564.2 -276.5L565.4 -278.9L566.6 -281.3L567.8 -283.7L569.0 -286.2L570.2 -288.6L571.4 -291.0L572.6 -293.4L573.8 -295.8L575.0 -298.2L576.1 -300.6L577.3 -303.0L578.5 -305.5L579.7 -307.9L580.9 -310.3L582.1 -312.7L583.3 -315.1L584.5 -317.5L585.7 -319.9L586.9 -322.4L588.1 -324.8L589.3 -327.2L590.5 -329.6L591.7 -332.0L592.9 -334.5L594.1 -336.9L595.3 -339.3L596.5 -341.7L597.7 -344.1" fill="none" stroke="#ff0000" stroke-width="1.45" stroke-dasharray="4.2 2.2" clip-path="url(#c2)"/>
<text transform="translate(375.00 70.80) scale(1.13 1)" font-size="10.9">s</text>
<text transform="translate(367.00 222.30) scale(1.13 1)" font-size="10.9">s+t+u</text>
<text transform="translate(370.00 261.60) scale(1.13 1)" font-size="10.9">t+u</text>
<clipPath id="c3"><rect x="54.50" y="358.00" width="236.40" height="236.40"/></clipPath>
<path d="M88.41 594.20v-3.00M88.41 358.30v3.00M155.84 594.20v-3.00M155.84 358.30v3.00M223.27 594.20v-3.00M223.27 358.30v3.00M290.70 594.20v-3.00M290.70 358.30v3.00M61.44 594.20v-1.70M61.44 358.30v1.70M74.93 594.20v-1.70M74.93 358.30v1.70M101.90 594.20v-1.70M101.90 358.30v1.70M115.39 594.20v-1.70M115.39 358.30v1.70M128.87 594.20v-1.70M128.87 358.30v1.70M142.36 594.20v-1.70M142.36 358.30v1.70M169.33 594.20v-1.70M169.33 358.30v1.70M182.81 594.20v-1.70M182.81 358.30v1.70M196.30 594.20v-1.70M196.30 358.30v1.70M209.79 594.20v-1.70M209.79 358.30v1.70M236.76 594.20v-1.70M236.76 358.30v1.70M250.24 594.20v-1.70M250.24 358.30v1.70M263.73 594.20v-1.70M263.73 358.30v1.70M277.21 594.20v-1.70M277.21 358.30v1.70M54.60 594.20h3.00M290.60 594.20h-3.00M54.60 554.88h3.00M290.60 554.88h-3.00M54.60 515.57h3.00M290.60 515.57h-3.00M54.60 476.25h3.00M290.60 476.25h-3.00M54.60 436.93h3.00M290.60 436.93h-3.00M54.60 397.62h3.00M290.60 397.62h-3.00M54.60 358.30h3.00M290.60 358.30h-3.00M54.60 586.34h1.70M290.60 586.34h-1.70M54.60 578.47h1.70M290.60 578.47h-1.70M54.60 570.61h1.70M290.60 570.61h-1.70M54.60 562.75h1.70M290.60 562.75h-1.70M54.60 547.02h1.70M290.60 547.02h-1.70M54.60 539.16h1.70M290.60 539.16h-1.70M54.60 531.29h1.70M290.60 531.29h-1.70M54.60 523.43h1.70M290.60 523.43h-1.70M54.60 507.70h1.70M290.60 507.70h-1.70M54.60 499.84h1.70M290.60 499.84h-1.70M54.60 491.98h1.70M290.60 491.98h-1.70M54.60 484.11h1.70M290.60 484.11h-1.70M54.60 468.39h1.70M290.60 468.39h-1.70M54.60 460.52h1.70M290.60 460.52h-1.70M54.60 452.66h1.70M290.60 452.66h-1.70M54.60 444.80h1.70M290.60 444.80h-1.70M54.60 429.07h1.70M290.60 429.07h-1.70M54.60 421.21h1.70M290.60 421.21h-1.70M54.60 413.34h1.70M290.60 413.34h-1.70M54.60 405.48h1.70M290.60 405.48h-1.70M54.60 389.75h1.70M290.60 389.75h-1.70M54.60 381.89h1.70M290.60 381.89h-1.70M54.60 374.03h1.70M290.60 374.03h-1.70M54.60 366.16h1.70M290.60 366.16h-1.70" stroke="#3a3a3a" stroke-width="0.8" fill="none"/>
<rect x="54.60" y="358.30" width="236.00" height="235.90" fill="none" stroke="#3a3a3a" stroke-width="1.05"/>
<text transform="translate(88.41 610.20) scale(1.13 1)" font-size="11.9" text-anchor="middle">500</text>
<text transform="translate(155.84 610.20) scale(1.13 1)" font-size="11.9" text-anchor="middle">1000</text>
<text transform="translate(223.27 610.20) scale(1.13 1)" font-size="11.9" text-anchor="middle">1500</text>
<text transform="translate(290.70 610.20) scale(1.13 1)" font-size="11.9" text-anchor="middle">2000</text>
<text transform="translate(49.10 599.00) scale(1.13 1)" font-size="11.9" text-anchor="end">0.0</text>
<text transform="translate(49.10 559.68) scale(1.13 1)" font-size="11.9" text-anchor="end">0.1</text>
<text transform="translate(49.10 520.37) scale(1.13 1)" font-size="11.9" text-anchor="end">0.2</text>
<text transform="translate(49.10 481.05) scale(1.13 1)" font-size="11.9" text-anchor="end">0.3</text>
<text transform="translate(49.10 441.73) scale(1.13 1)" font-size="11.9" text-anchor="end">0.4</text>
<text transform="translate(49.10 402.42) scale(1.13 1)" font-size="11.9" text-anchor="end">0.5</text>
<text transform="translate(49.10 363.10) scale(1.13 1)" font-size="11.9" text-anchor="end">0.6</text>
<path d="M54.7 594.0L54.7 586.5L54.8 583.4L54.8 580.9L54.8 578.9L54.8 577.1L54.9 575.5L54.9 574.0L54.9 572.6L54.9 571.3L55.0 570.1L55.0 568.9L55.0 567.8L55.0 566.7L55.1 565.7L55.1 564.7L55.1 563.8L55.1 562.9L55.2 562.0L55.2 561.1L55.2 560.3L55.2 559.4L55.3 558.6L55.3 557.9L55.3 557.1L55.3 556.4L55.4 555.6L55.4 554.9L55.4 554.2L55.4 553.5L55.5 552.9L55.5 552.2L55.5 551.6L55.5 550.9L55.6 550.3L55.6 549.7L55.6 549.1L55.6 548.5L55.7 547.9L55.7 547.3L55.7 546.7L55.7 546.2L55.8 545.6L55.8 545.1L55.8 544.5L55.9 544.0L55.9 543.5L55.9 542.9L55.9 542.4L56.0 541.9L56.0 541.4L56.0 540.9L56.0 540.4L56.1 540.0L56.1 539.5L56.1 539.0L56.1 538.5L56.2 538.1L56.2 537.6L56.2 537.2L56.2 536.7L56.3 536.3L56.3 535.8L56.3 535.4L56.3 534.9L56.4 534.5L56.4 534.1L56.4 533.7L56.4 533.3L56.5 532.8L56.5 532.4L56.5 532.0L56.5 531.6L56.6 531.2L56.6 530.8L56.6 530.4L56.6 530.0L56.7 529.7L56.7 529.3L56.7 528.9L56.7 528.9L57.0 524.6L57.3 520.7L57.6 517.0L57.9 513.6L58.2 510.4L58.5 507.4L58.8 504.6L59.1 501.9L59.5 499.4L59.8 497.0L60.1 494.7L60.4 492.5L60.7 490.4L61.0 488.4L61.3 486.4L61.6 484.6L61.9 482.8L62.2 481.1L62.5 479.4L62.8 477.8L63.1 476.2L63.4 474.8L63.7 473.3L64.0 471.9L64.3 470.6L64.6 469.3L64.9 468.0L65.2 466.8L65.5 465.6L65.8 464.4L66.1 463.3L66.4 462.2L66.7 461.1L67.0 460.1L67.3 459.1L67.6 458.1L67.9 457.1L68.2 456.2L68.5 455.3L68.9 454.4L69.2 453.6L69.5 452.7L69.8 451.9L70.1 451.1L70.4 450.3L70.7 449.6L71.0 448.8L71.3 448.1L71.6 447.4L71.9 446.7L72.2 446.0L72.5 445.3L72.8 444.7L73.1 444.1L73.4 443.4L73.7 442.8L74.0 442.2L74.3 441.6L74.6 441.1L74.9 440.5L75.2 440.0L75.5 439.4L75.8 438.9L76.1 438.4L76.4 437.9L76.7 437.4L77.0 436.9L77.3 436.4L77.6 435.9L77.9 435.5L78.3 435.0L78.6 434.6L78.9 434.2L79.2 433.7L79.5 433.3L79.8 432.9L80.1 432.5L80.4 432.1L80.7 431.7L81.0 431.3L81.3 430.9L81.6 430.6L81.9 430.2L82.2 429.9L82.5 429.5L82.8 429.2L83.1 428.8L83.4 428.5L83.7 428.2L84.0 427.8L84.3 427.5L84.6 427.2L84.9 426.9L85.2 426.6L85.5 426.3L85.8 426.0L86.1 425.7L86.4 425.4L86.7 425.1L87.0 424.9L87.3 424.6L87.6 424.3L88.0 424.1L88.3 423.8L88.6 423.6L88.9 423.3L89.2 423.1L89.5 422.8L89.8 422.6L90.1 422.3L90.4 422.1L90.7 421.9L91.0 421.6L91.3 421.4L91.6 421.2L91.9 421.0L92.2 420.8L92.5 420.5L92.8 420.3L93.1 420.1L93.4 419.9L93.7 419.7L94.0 419.5L94.3 419.3L94.6 419.1L94.9 419.0L95.2 418.8L95.5 418.6L95.8 418.4L96.1 418.2L96.4 418.0L96.7 417.9L97.0 417.7L97.4 417.5L97.7 417.4L98.0 417.2L98.3 417.0L98.6 416.9L98.9 416.7L99.2 416.5L99.5 416.4L99.8 416.2L100.1 416.1L100.4 415.9L100.7 415.8L101.0 415.6L101.3 415.5L101.6 415.3L101.9 415.2L101.9 415.2L104.3 414.1L106.7 413.2L109.1 412.3L111.5 411.5L113.8 410.7L116.2 410.0L118.6 409.4L121.0 408.8L123.4 408.3L125.8 407.8L128.2 407.3L130.6 406.8L133.0 406.4L135.4 406.0L137.7 405.7L140.1 405.3L142.5 405.0L144.9 404.7L147.3 404.4L149.7 404.2L152.1 403.9L154.5 403.7L156.9 403.5L159.3 403.2L161.6 403.0L164.0 402.8L166.4 402.7L168.8 402.5L171.2 402.3L173.6 402.2L176.0 402.0L178.4 401.9L180.8 401.7L183.2 401.6L185.5 401.5L187.9 401.3L190.3 401.2L192.7 401.1L195.1 401.0L197.5 400.9L199.9 400.8L202.3 400.7L204.7 400.6L207.1 400.6L209.4 400.5L211.8 400.4L214.2 400.3L216.6 400.2L219.0 400.2L221.4 400.1L223.8 400.0L226.2 400.0L228.6 399.9L231.0 399.8L233.3 399.8L235.7 399.7L238.1 399.7L240.5 399.6L242.9 399.6L245.3 399.5L247.7 399.5L250.1 399.4L252.5 399.4L254.9 399.3L257.2 399.3L259.6 399.3L262.0 399.2L264.4 399.2L266.8 399.2L269.2 399.1L271.6 399.1L274.0 399.0L276.4 399.0L278.8 399.0L281.1 399.0L283.5 398.9L285.9 398.9L288.3 398.9L290.7 398.8" fill="none" stroke="#ff0000" stroke-width="1.2" stroke-dasharray="5 2 1.5 2" clip-path="url(#c3)"/>
<path d="M54.7 594.0L54.7 587.1L54.8 584.2L54.8 581.9L54.8 580.0L54.8 578.4L54.9 576.9L54.9 575.5L54.9 574.2L54.9 573.0L55.0 571.9L55.0 570.8L55.0 569.8L55.0 568.8L55.1 567.8L55.1 566.9L55.1 566.0L55.1 565.1L55.2 564.3L55.2 563.5L55.2 562.7L55.2 562.0L55.3 561.2L55.3 560.5L55.3 559.8L55.3 559.1L55.4 558.4L55.4 557.7L55.4 557.0L55.4 556.4L55.5 555.8L55.5 555.1L55.5 554.5L55.5 553.9L55.6 553.3L55.6 552.8L55.6 552.2L55.6 551.6L55.7 551.1L55.7 550.5L55.7 550.0L55.7 549.4L55.8 548.9L55.8 548.4L55.8 547.9L55.9 547.4L55.9 546.9L55.9 546.4L55.9 545.9L56.0 545.4L56.0 544.9L56.0 544.5L56.0 544.0L56.1 543.5L56.1 543.1L56.1 542.6L56.1 542.2L56.2 541.7L56.2 541.3L56.2 540.9L56.2 540.4L56.3 540.0L56.3 539.6L56.3 539.2L56.3 538.7L56.4 538.3L56.4 537.9L56.4 537.5L56.4 537.1L56.5 536.7L56.5 536.3L56.5 535.9L56.5 535.6L56.6 535.2L56.6 534.8L56.6 534.4L56.6 534.0L56.7 533.7L56.7 533.3L56.7 532.9L56.7 532.9L57.0 528.8L57.3 525.0L57.6 521.4L57.9 518.1L58.2 515.0L58.5 512.0L58.8 509.3L59.1 506.6L59.5 504.1L59.8 501.7L60.1 499.4L60.4 497.2L60.7 495.1L61.0 493.1L61.3 491.2L61.6 489.3L61.9 487.5L62.2 485.8L62.5 484.1L62.8 482.5L63.1 480.9L63.4 479.4L63.7 478.0L64.0 476.5L64.3 475.2L64.6 473.8L64.9 472.5L65.2 471.3L65.5 470.1L65.8 468.9L66.1 467.7L66.4 466.6L66.7 465.5L67.0 464.5L67.3 463.4L67.6 462.4L67.9 461.5L68.2 460.5L68.5 459.6L68.9 458.7L69.2 457.8L69.5 456.9L69.8 456.1L70.1 455.2L70.4 454.4L70.7 453.6L71.0 452.9L71.3 452.1L71.6 451.4L71.9 450.7L72.2 450.0L72.5 449.3L72.8 448.6L73.1 447.9L73.4 447.3L73.7 446.7L74.0 446.0L74.3 445.4L74.6 444.8L74.9 444.2L75.2 443.7L75.5 443.1L75.8 442.6L76.1 442.0L76.4 441.5L76.7 441.0L77.0 440.5L77.3 440.0L77.6 439.5L77.9 439.0L78.3 438.5L78.6 438.1L78.9 437.6L79.2 437.1L79.5 436.7L79.8 436.3L80.1 435.9L80.4 435.4L80.7 435.0L81.0 434.6L81.3 434.2L81.6 433.8L81.9 433.4L82.2 433.1L82.5 432.7L82.8 432.3L83.1 432.0L83.4 431.6L83.7 431.3L84.0 430.9L84.3 430.6L84.6 430.3L84.9 429.9L85.2 429.6L85.5 429.3L85.8 429.0L86.1 428.7L86.4 428.4L86.7 428.1L87.0 427.8L87.3 427.5L87.6 427.2L88.0 426.9L88.3 426.7L88.6 426.4L88.9 426.1L89.2 425.9L89.5 425.6L89.8 425.3L90.1 425.1L90.4 424.8L90.7 424.6L91.0 424.3L91.3 424.1L91.6 423.9L91.9 423.6L92.2 423.4L92.5 423.2L92.8 423.0L93.1 422.7L93.4 422.5L93.7 422.3L94.0 422.1L94.3 421.9L94.6 421.7L94.9 421.5L95.2 421.3L95.5 421.1L95.8 420.9L96.1 420.7L96.4 420.5L96.7 420.3L97.0 420.1L97.4 419.9L97.7 419.7L98.0 419.6L98.3 419.4L98.6 419.2L98.9 419.0L99.2 418.9L99.5 418.7L99.8 418.5L100.1 418.4L100.4 418.2L100.7 418.1L101.0 417.9L101.3 417.7L101.6 417.6L101.9 417.4L101.9 417.4L104.3 416.3L106.7 415.2L109.1 414.3L111.5 413.4L113.8 412.6L116.2 411.8L118.6 411.1L121.0 410.5L123.4 409.9L125.8 409.3L128.2 408.8L130.6 408.3L133.0 407.8L135.4 407.4L137.7 407.0L140.1 406.6L142.5 406.3L144.9 405.9L147.3 405.6L149.7 405.3L152.1 405.0L154.5 404.8L156.9 404.5L159.3 404.3L161.6 404.0L164.0 403.8L166.4 403.6L168.8 403.4L171.2 403.2L173.6 403.0L176.0 402.9L178.4 402.7L180.8 402.6L183.2 402.4L185.5 402.3L187.9 402.1L190.3 402.0L192.7 401.9L195.1 401.7L197.5 401.6L199.9 401.5L202.3 401.4L204.7 401.3L207.1 401.2L209.4 401.1L211.8 401.0L214.2 400.9L216.6 400.8L219.0 400.8L221.4 400.7L223.8 400.6L226.2 400.5L228.6 400.5L231.0 400.4L233.3 400.3L235.7 400.3L238.1 400.2L240.5 400.1L242.9 400.1L245.3 400.0L247.7 400.0L250.1 399.9L252.5 399.9L254.9 399.8L257.2 399.8L259.6 399.7L262.0 399.7L264.4 399.6L266.8 399.6L269.2 399.5L271.6 399.5L274.0 399.4L276.4 399.4L278.8 399.4L281.1 399.3L283.5 399.3L285.9 399.3L288.3 399.2L290.7 399.2" fill="none" stroke="#ff0000" stroke-width="1.45" clip-path="url(#c3)"/>
<path d="M54.7 594.2L54.7 593.5L54.8 593.2L54.8 593.0L54.8 592.8L54.8 592.6L54.9 592.5L54.9 592.4L54.9 592.3L54.9 592.1L55.0 592.0L55.0 591.9L55.0 591.8L55.0 591.8L55.1 591.7L55.1 591.6L55.1 591.5L55.1 591.4L55.2 591.4L55.2 591.3L55.2 591.2L55.2 591.2L55.3 591.1L55.3 591.1L55.3 591.0L55.3 591.0L55.4 590.9L55.4 590.8L55.4 590.8L55.4 590.7L55.5 590.7L55.5 590.7L55.5 590.6L55.5 590.6L55.6 590.5L55.6 590.5L55.6 590.4L55.6 590.4L55.7 590.4L55.7 590.3L55.7 590.3L55.7 590.2L55.8 590.2L55.8 590.2L55.8 590.1L55.9 590.1L55.9 590.1L55.9 590.0L55.9 590.0L56.0 590.0L56.0 590.0L56.0 589.9L56.0 589.9L56.1 589.9L56.1 589.8L56.1 589.8L56.1 589.8L56.2 589.8L56.2 589.7L56.2 589.7L56.2 589.7L56.3 589.7L56.3 589.6L56.3 589.6L56.3 589.6L56.4 589.6L56.4 589.6L56.4 589.5L56.4 589.5L56.5 589.5L56.5 589.5L56.5 589.4L56.5 589.4L56.6 589.4L56.6 589.4L56.6 589.4L56.6 589.4L56.7 589.3L56.7 589.3L56.7 589.3L56.7 589.3L57.0 589.1L57.3 589.0L57.6 588.8L57.9 588.7L58.2 588.7L58.5 588.6L58.8 588.5L59.1 588.5L59.5 588.5L59.8 588.4L60.1 588.4L60.4 588.4L60.7 588.4L61.0 588.4L61.3 588.4L61.6 588.4L61.9 588.4L62.2 588.4L62.5 588.4L62.8 588.5L63.1 588.5L63.4 588.5L63.7 588.5L64.0 588.6L64.3 588.6L64.6 588.6L64.9 588.6L65.2 588.7L65.5 588.7L65.8 588.7L66.1 588.8L66.4 588.8L66.7 588.8L67.0 588.9L67.3 588.9L67.6 588.9L67.9 588.9L68.2 589.0L68.5 589.0L68.9 589.0L69.2 589.1L69.5 589.1L69.8 589.1L70.1 589.2L70.4 589.2L70.7 589.2L71.0 589.3L71.3 589.3L71.6 589.3L71.9 589.4L72.2 589.4L72.5 589.4L72.8 589.5L73.1 589.5L73.4 589.5L73.7 589.6L74.0 589.6L74.3 589.6L74.6 589.7L74.9 589.7L75.2 589.7L75.5 589.8L75.8 589.8L76.1 589.8L76.4 589.8L76.7 589.9L77.0 589.9L77.3 589.9L77.6 590.0L77.9 590.0L78.3 590.0L78.6 590.0L78.9 590.1L79.2 590.1L79.5 590.1L79.8 590.2L80.1 590.2L80.4 590.2L80.7 590.2L81.0 590.3L81.3 590.3L81.6 590.3L81.9 590.3L82.2 590.4L82.5 590.4L82.8 590.4L83.1 590.4L83.4 590.5L83.7 590.5L84.0 590.5L84.3 590.5L84.6 590.6L84.9 590.6L85.2 590.6L85.5 590.6L85.8 590.7L86.1 590.7L86.4 590.7L86.7 590.7L87.0 590.7L87.3 590.8L87.6 590.8L88.0 590.8L88.3 590.8L88.6 590.8L88.9 590.9L89.2 590.9L89.5 590.9L89.8 590.9L90.1 590.9L90.4 591.0L90.7 591.0L91.0 591.0L91.3 591.0L91.6 591.0L91.9 591.1L92.2 591.1L92.5 591.1L92.8 591.1L93.1 591.1L93.4 591.2L93.7 591.2L94.0 591.2L94.3 591.2L94.6 591.2L94.9 591.2L95.2 591.3L95.5 591.3L95.8 591.3L96.1 591.3L96.4 591.3L96.7 591.3L97.0 591.4L97.4 591.4L97.7 591.4L98.0 591.4L98.3 591.4L98.6 591.4L98.9 591.5L99.2 591.5L99.5 591.5L99.8 591.5L100.1 591.5L100.4 591.5L100.7 591.5L101.0 591.6L101.3 591.6L101.6 591.6L101.9 591.6L101.9 591.6L104.3 591.7L106.7 591.8L109.1 591.9L111.5 592.0L113.8 592.1L116.2 592.2L118.6 592.2L121.0 592.3L123.4 592.4L125.8 592.4L128.2 592.5L130.6 592.5L133.0 592.6L135.4 592.6L137.7 592.7L140.1 592.7L142.5 592.8L144.9 592.8L147.3 592.9L149.7 592.9L152.1 592.9L154.5 593.0L156.9 593.0L159.3 593.0L161.6 593.1L164.0 593.1L166.4 593.1L168.8 593.2L171.2 593.2L173.6 593.2L176.0 593.2L178.4 593.3L180.8 593.3L183.2 593.3L185.5 593.3L187.9 593.3L190.3 593.4L192.7 593.4L195.1 593.4L197.5 593.4L199.9 593.4L202.3 593.4L204.7 593.5L207.1 593.5L209.4 593.5L211.8 593.5L214.2 593.5L216.6 593.5L219.0 593.5L221.4 593.6L223.8 593.6L226.2 593.6L228.6 593.6L231.0 593.6L233.3 593.6L235.7 593.6L238.1 593.6L240.5 593.6L242.9 593.7L245.3 593.7L247.7 593.7L250.1 593.7L252.5 593.7L254.9 593.7L257.2 593.7L259.6 593.7L262.0 593.7L264.4 593.7L266.8 593.7L269.2 593.7L271.6 593.8L274.0 593.8L276.4 593.8L278.8 593.8L281.1 593.8L283.5 593.8L285.9 593.8L288.3 593.8L290.7 593.8" fill="none" stroke="#ff0000" stroke-width="1.45" stroke-dasharray="2 2.6" clip-path="url(#c3)"/>
<path d="M54.7 594.2L54.7 594.1L54.8 594.0L54.8 594.0L54.8 594.0L54.8 593.9L54.9 593.9L54.9 593.9L54.9 593.9L54.9 593.9L55.0 593.8L55.0 593.8L55.0 593.8L55.0 593.8L55.1 593.8L55.1 593.8L55.1 593.7L55.1 593.7L55.2 593.7L55.2 593.7L55.2 593.7L55.2 593.7L55.3 593.7L55.3 593.7L55.3 593.7L55.3 593.6L55.4 593.6L55.4 593.6L55.4 593.6L55.4 593.6L55.5 593.6L55.5 593.6L55.5 593.6L55.5 593.6L55.6 593.6L55.6 593.6L55.6 593.6L55.6 593.5L55.7 593.5L55.7 593.5L55.7 593.5L55.7 593.5L55.8 593.5L55.8 593.5L55.8 593.5L55.9 593.5L55.9 593.5L55.9 593.5L55.9 593.5L56.0 593.5L56.0 593.5L56.0 593.5L56.0 593.5L56.1 593.4L56.1 593.4L56.1 593.4L56.1 593.4L56.2 593.4L56.2 593.4L56.2 593.4L56.2 593.4L56.3 593.4L56.3 593.4L56.3 593.4L56.3 593.4L56.4 593.4L56.4 593.4L56.4 593.4L56.4 593.4L56.5 593.4L56.5 593.4L56.5 593.4L56.5 593.4L56.6 593.4L56.6 593.4L56.6 593.4L56.6 593.3L56.7 593.3L56.7 593.3L56.7 593.3L56.7 593.3L57.0 593.3L57.3 593.3L57.6 593.2L57.9 593.2L58.2 593.2L58.5 593.2L58.8 593.2L59.1 593.2L59.5 593.2L59.8 593.2L60.1 593.1L60.4 593.1L60.7 593.1L61.0 593.1L61.3 593.1L61.6 593.1L61.9 593.1L62.2 593.1L62.5 593.2L62.8 593.2L63.1 593.2L63.4 593.2L63.7 593.2L64.0 593.2L64.3 593.2L64.6 593.2L64.9 593.2L65.2 593.2L65.5 593.2L65.8 593.2L66.1 593.2L66.4 593.2L66.7 593.2L67.0 593.2L67.3 593.2L67.6 593.3L67.9 593.3L68.2 593.3L68.5 593.3L68.9 593.3L69.2 593.3L69.5 593.3L69.8 593.3L70.1 593.3L70.4 593.3L70.7 593.3L71.0 593.3L71.3 593.3L71.6 593.4L71.9 593.4L72.2 593.4L72.5 593.4L72.8 593.4L73.1 593.4L73.4 593.4L73.7 593.4L74.0 593.4L74.3 593.4L74.6 593.4L74.9 593.4L75.2 593.4L75.5 593.4L75.8 593.5L76.1 593.5L76.4 593.5L76.7 593.5L77.0 593.5L77.3 593.5L77.6 593.5L77.9 593.5L78.3 593.5L78.6 593.5L78.9 593.5L79.2 593.5L79.5 593.5L79.8 593.5L80.1 593.5L80.4 593.5L80.7 593.6L81.0 593.6L81.3 593.6L81.6 593.6L81.9 593.6L82.2 593.6L82.5 593.6L82.8 593.6L83.1 593.6L83.4 593.6L83.7 593.6L84.0 593.6L84.3 593.6L84.6 593.6L84.9 593.6L85.2 593.6L85.5 593.6L85.8 593.6L86.1 593.6L86.4 593.6L86.7 593.7L87.0 593.7L87.3 593.7L87.6 593.7L88.0 593.7L88.3 593.7L88.6 593.7L88.9 593.7L89.2 593.7L89.5 593.7L89.8 593.7L90.1 593.7L90.4 593.7L90.7 593.7L91.0 593.7L91.3 593.7L91.6 593.7L91.9 593.7L92.2 593.7L92.5 593.7L92.8 593.7L93.1 593.7L93.4 593.7L93.7 593.7L94.0 593.7L94.3 593.7L94.6 593.8L94.9 593.8L95.2 593.8L95.5 593.8L95.8 593.8L96.1 593.8L96.4 593.8L96.7 593.8L97.0 593.8L97.4 593.8L97.7 593.8L98.0 593.8L98.3 593.8L98.6 593.8L98.9 593.8L99.2 593.8L99.5 593.8L99.8 593.8L100.1 593.8L100.4 593.8L100.7 593.8L101.0 593.8L101.3 593.8L101.6 593.8L101.9 593.8L101.9 593.8L104.3 593.8L106.7 593.9L109.1 593.9L111.5 593.9L113.8 593.9L116.2 593.9L118.6 593.9L121.0 593.9L123.4 594.0L125.8 594.0L128.2 594.0L130.6 594.0L133.0 594.0L135.4 594.0L137.7 594.0L140.1 594.0L142.5 594.0L144.9 594.0L147.3 594.0L149.7 594.0L152.1 594.1L154.5 594.1L156.9 594.1L159.3 594.1L161.6 594.1L164.0 594.1L166.4 594.1L168.8 594.1L171.2 594.1L173.6 594.1L176.0 594.1L178.4 594.1L180.8 594.1L183.2 594.1L185.5 594.1L187.9 594.1L190.3 594.1L192.7 594.1L195.1 594.1L197.5 594.1L199.9 594.1L202.3 594.1L204.7 594.1L207.1 594.1L209.4 594.1L211.8 594.1L214.2 594.1L216.6 594.1L219.0 594.1L221.4 594.1L223.8 594.1L226.2 594.1L228.6 594.1L231.0 594.1L233.3 594.1L235.7 594.1L238.1 594.1L240.5 594.1L242.9 594.1L245.3 594.1L247.7 594.2L250.1 594.2L252.5 594.2L254.9 594.2L257.2 594.2L259.6 594.2L262.0 594.2L264.4 594.2L266.8 594.2L269.2 594.2L271.6 594.2L274.0 594.2L276.4 594.2L278.8 594.2L281.1 594.2L283.5 594.2L285.9 594.2L288.3 594.2L290.7 594.2" fill="none" stroke="#ff0000" stroke-width="1.45" stroke-dasharray="4.2 2.2" clip-path="url(#c3)"/>
<path d="M54.60 397.62H290.60" stroke="#111" stroke-width="1.4"/>
<text transform="translate(76.10 411.90) scale(1.13 1)" font-size="10.9">4vrtx</text>
<text transform="translate(86.30 440.80) scale(1.13 1)" font-size="10.9">s+t+u+4vrtx</text>
<text transform="translate(58.90 591.40) scale(1.13 1)" font-size="10.9">s</text>
<text transform="translate(81.00 587.40) scale(1.13 1)" font-size="10.9">t+u</text>
<clipPath id="c4"><rect x="355.50" y="353.30" width="239.40" height="239.50"/></clipPath>
<path d="M392.90 592.60v-3.00M392.90 353.60v3.00M443.23 592.60v-3.00M443.23 353.60v3.00M493.55 592.60v-3.00M493.55 353.60v3.00M543.88 592.60v-3.00M543.88 353.60v3.00M594.20 592.60v-3.00M594.20 353.60v3.00M362.70 592.60v-1.70M362.70 353.60v1.70M372.77 592.60v-1.70M372.77 353.60v1.70M382.83 592.60v-1.70M382.83 353.60v1.70M402.96 592.60v-1.70M402.96 353.60v1.70M413.03 592.60v-1.70M413.03 353.60v1.70M423.09 592.60v-1.70M423.09 353.60v1.70M433.16 592.60v-1.70M433.16 353.60v1.70M453.29 592.60v-1.70M453.29 353.60v1.70M463.36 592.60v-1.70M463.36 353.60v1.70M473.42 592.60v-1.70M473.42 353.60v1.70M483.49 592.60v-1.70M483.49 353.60v1.70M503.62 592.60v-1.70M503.62 353.60v1.70M513.68 592.60v-1.70M513.68 353.60v1.70M523.75 592.60v-1.70M523.75 353.60v1.70M533.81 592.60v-1.70M533.81 353.60v1.70M553.94 592.60v-1.70M553.94 353.60v1.70M564.00 592.60v-1.70M564.00 353.60v1.70M574.07 592.60v-1.70M574.07 353.60v1.70M584.13 592.60v-1.70M584.13 353.60v1.70M355.60 592.60h3.00M594.60 592.60h-3.00M355.60 532.85h3.00M594.60 532.85h-3.00M355.60 473.10h3.00M594.60 473.10h-3.00M355.60 413.35h3.00M594.60 413.35h-3.00M355.60 353.60h3.00M594.60 353.60h-3.00M355.60 580.65h1.70M594.60 580.65h-1.70M355.60 568.70h1.70M594.60 568.70h-1.70M355.60 556.75h1.70M594.60 556.75h-1.70M355.60 544.80h1.70M594.60 544.80h-1.70M355.60 520.90h1.70M594.60 520.90h-1.70M355.60 508.95h1.70M594.60 508.95h-1.70M355.60 497.00h1.70M594.60 497.00h-1.70M355.60 485.05h1.70M594.60 485.05h-1.70M355.60 461.15h1.70M594.60 461.15h-1.70M355.60 449.20h1.70M594.60 449.20h-1.70M355.60 437.25h1.70M594.60 437.25h-1.70M355.60 425.30h1.70M594.60 425.30h-1.70M355.60 401.40h1.70M594.60 401.40h-1.70M355.60 389.45h1.70M594.60 389.45h-1.70M355.60 377.50h1.70M594.60 377.50h-1.70M355.60 365.55h1.70M594.60 365.55h-1.70" stroke="#3a3a3a" stroke-width="0.8" fill="none"/>
<rect x="355.60" y="353.60" width="239.00" height="239.00" fill="none" stroke="#3a3a3a" stroke-width="1.05"/>
<text transform="translate(392.90 608.20) scale(1.13 1)" font-size="11.9" text-anchor="middle">1000</text>
<text transform="translate(443.23 608.20) scale(1.13 1)" font-size="11.9" text-anchor="middle">2000</text>
<text transform="translate(493.55 608.20) scale(1.13 1)" font-size="11.9" text-anchor="middle">3000</text>
<text transform="translate(543.88 608.20) scale(1.13 1)" font-size="11.9" text-anchor="middle">4000</text>
<text transform="translate(594.20 608.20) scale(1.13 1)" font-size="11.9" text-anchor="middle">5000</text>
<text transform="translate(350.10 597.40) scale(1.13 1)" font-size="11.9" text-anchor="end">60</text>
<text transform="translate(350.10 537.65) scale(1.13 1)" font-size="11.9" text-anchor="end">65</text>
<text transform="translate(350.10 477.90) scale(1.13 1)" font-size="11.9" text-anchor="end">70</text>
<text transform="translate(350.10 418.15) scale(1.13 1)" font-size="11.9" text-anchor="end">75</text>
<text transform="translate(350.10 358.40) scale(1.13 1)" font-size="11.9" text-anchor="end">80</text>
<path d="M355.2 -865695.9L355.2 -6376.7L355.3 -4146.3L355.3 -3162.1L355.4 -2577.6L355.5 -2180.3L355.5 -1888.1L355.6 -1661.9L355.7 -1480.2L355.7 -1330.3L355.8 -1204.0L355.9 -1095.7L355.9 -1001.6L356.0 -918.9L356.1 -845.5L356.1 -779.8L356.2 -720.5L356.3 -666.8L356.3 -617.8L356.4 -572.9L356.4 -531.6L356.5 -493.4L356.6 -457.9L356.6 -424.9L356.7 -394.1L356.8 -365.3L356.8 -338.3L356.9 -312.8L357.0 -288.9L357.0 -266.2L357.1 -244.8L357.2 -224.5L357.2 -205.2L357.3 -186.9L357.3 -169.4L357.4 -152.8L357.5 -136.9L357.5 -121.7L357.6 -107.2L357.7 -93.3L357.7 -93.3L358.1 -17.6L358.5 42.5L358.9 91.4L359.3 132.1L359.7 166.5L360.1 195.9L360.5 221.5L360.9 243.8L361.3 263.5L361.7 281.0L362.1 296.7L362.5 310.7L362.9 323.5L363.3 335.0L363.8 345.6L364.2 355.2L364.6 364.0L365.0 372.2L365.4 379.7L365.8 386.7L366.2 393.2L366.6 399.2L367.0 404.8L367.4 410.0L367.8 415.0L368.2 419.6L368.6 423.9L369.0 428.0L369.4 431.8L369.8 435.4L370.2 438.9L370.6 442.1L371.0 445.2L371.5 448.1L371.9 450.8L372.3 453.4L372.7 455.9L373.1 458.3L373.5 460.6L373.9 462.7L374.3 464.8L374.7 466.8L375.1 468.7L375.5 470.5L375.9 472.2L376.3 473.9L376.7 475.4L377.1 477.0L377.5 478.4L377.9 479.8L378.3 481.2L378.7 482.5L379.2 483.7L379.6 484.9L380.0 486.1L380.4 487.2L380.8 488.3L381.2 489.3L381.6 490.4L382.0 491.3L382.4 492.3L382.8 493.2L383.2 494.0L383.6 494.9L384.0 495.7L384.4 496.5L384.8 497.3L385.2 498.0L385.6 498.7L386.0 499.5L386.4 500.1L386.9 500.8L387.3 501.4L387.7 502.1L388.1 502.7L388.5 503.2L388.9 503.8L389.3 504.4L389.7 504.9L390.1 505.4L390.5 505.9L390.9 506.4L391.3 506.9L391.7 507.4L392.1 507.8L392.5 508.3L392.9 508.7L393.3 509.2L393.7 509.6L394.1 510.0L394.6 510.4L395.0 510.7L395.4 511.1L395.8 511.5L396.2 511.8L396.6 512.2L397.0 512.5L397.4 512.9L397.8 513.2L398.2 513.5L398.6 513.8L399.0 514.1L399.4 514.4L399.8 514.7L400.2 515.0L400.6 515.3L401.0 515.5L401.4 515.8L401.9 516.0L402.3 516.3L402.7 516.5L403.1 516.8L403.5 517.0L403.9 517.3L404.3 517.5L404.7 517.7L405.1 517.9L405.5 518.1L405.9 518.4L406.3 518.6L406.7 518.8L407.1 519.0L407.5 519.2L407.9 519.3L408.3 519.5L408.7 519.7L409.1 519.9L409.6 520.1L410.0 520.2L410.4 520.4L410.8 520.6L411.2 520.7L411.6 520.9L412.0 521.1L412.4 521.2L412.8 521.4L413.2 521.5L413.6 521.7L414.0 521.8L414.4 522.0L414.8 522.1L415.2 522.2L415.6 522.4L416.0 522.5L416.4 522.6L416.8 522.8L417.3 522.9L417.7 523.0L418.1 523.1L418.1 523.1L420.3 523.8L422.5 524.3L424.8 524.9L427.0 525.4L429.2 525.8L431.4 526.2L433.7 526.6L435.9 527.0L438.1 527.3L440.4 527.6L442.6 527.9L444.8 528.2L447.0 528.4L449.3 528.7L451.5 528.9L453.7 529.1L456.0 529.3L458.2 529.5L460.4 529.7L462.7 529.8L464.9 530.0L467.1 530.1L469.3 530.3L471.6 530.4L473.8 530.5L476.0 530.7L478.3 530.8L480.5 530.9L482.7 531.0L485.0 531.1L487.2 531.2L489.4 531.3L491.6 531.4L493.9 531.4L496.1 531.5L498.3 531.6L500.6 531.7L502.8 531.7L505.0 531.8L507.2 531.9L509.5 531.9L511.7 532.0L513.9 532.0L516.2 532.1L518.4 532.1L520.6 532.2L522.9 532.2L525.1 532.3L527.3 532.3L529.5 532.4L531.8 532.4L534.0 532.4L536.2 532.5L538.5 532.5L540.7 532.6L542.9 532.6L545.1 532.6L547.4 532.7L549.6 532.7L551.8 532.7L554.1 532.8L556.3 532.8L558.5 532.8L560.8 532.8L563.0 532.9L565.2 532.9L567.4 532.9L569.7 532.9L571.9 533.0L574.1 533.0L576.4 533.0L578.6 533.0L580.8 533.0L583.1 533.1L585.3 533.1L587.5 533.1L589.7 533.1L592.0 533.1L594.2 533.2" fill="none" stroke="#ff0000" stroke-width="1.2" stroke-dasharray="5 2 1.5 2" clip-path="url(#c4)"/>
<path d="M355.2 -865755.6L355.2 -6435.2L355.3 -4203.6L355.3 -3218.2L355.4 -2632.6L355.5 -2234.2L355.5 -1941.1L355.6 -1713.9L355.7 -1531.3L355.7 -1380.5L355.8 -1253.3L355.9 -1144.2L355.9 -1049.3L356.0 -965.9L356.1 -891.7L356.1 -825.3L356.2 -765.4L356.3 -711.1L356.3 -661.5L356.4 -615.9L356.4 -574.0L356.5 -535.2L356.6 -499.2L356.6 -465.7L356.7 -434.4L356.8 -405.0L356.8 -377.5L356.9 -351.6L357.0 -327.1L357.0 -304.0L357.1 -282.2L357.2 -261.4L357.2 -241.7L357.3 -223.0L357.3 -205.1L357.4 -188.1L357.5 -171.8L357.5 -156.3L357.6 -141.4L357.7 -127.1L357.7 -127.1L358.1 -49.4L358.5 12.5L358.9 63.0L359.3 105.2L359.7 140.9L360.1 171.5L360.5 198.1L360.9 221.4L361.3 242.0L361.7 260.4L362.1 276.8L362.5 291.6L362.9 305.0L363.3 317.2L363.8 328.3L364.2 338.5L364.6 347.9L365.0 356.5L365.4 364.5L365.8 371.9L366.2 378.8L366.6 385.2L367.0 391.2L367.4 396.8L367.8 402.1L368.2 407.0L368.6 411.7L369.0 416.0L369.4 420.2L369.8 424.1L370.2 427.7L370.6 431.2L371.0 434.6L371.5 437.7L371.9 440.7L372.3 443.5L372.7 446.2L373.1 448.8L373.5 451.3L373.9 453.6L374.3 455.9L374.7 458.0L375.1 460.1L375.5 462.0L375.9 463.9L376.3 465.7L376.7 467.5L377.1 469.1L377.5 470.8L377.9 472.3L378.3 473.8L378.7 475.2L379.2 476.6L379.6 477.9L380.0 479.2L380.4 480.4L380.8 481.6L381.2 482.8L381.6 483.9L382.0 485.0L382.4 486.0L382.8 487.0L383.2 488.0L383.6 488.9L384.0 489.8L384.4 490.7L384.8 491.6L385.2 492.4L385.6 493.2L386.0 494.0L386.4 494.7L386.9 495.5L387.3 496.2L387.7 496.9L388.1 497.6L388.5 498.2L388.9 498.9L389.3 499.5L389.7 500.1L390.1 500.7L390.5 501.3L390.9 501.8L391.3 502.4L391.7 502.9L392.1 503.4L392.5 503.9L392.9 504.4L393.3 504.9L393.7 505.3L394.1 505.8L394.6 506.2L395.0 506.7L395.4 507.1L395.8 507.5L396.2 507.9L396.6 508.3L397.0 508.7L397.4 509.1L397.8 509.4L398.2 509.8L398.6 510.1L399.0 510.5L399.4 510.8L399.8 511.1L400.2 511.5L400.6 511.8L401.0 512.1L401.4 512.4L401.9 512.7L402.3 513.0L402.7 513.3L403.1 513.5L403.5 513.8L403.9 514.1L404.3 514.3L404.7 514.6L405.1 514.8L405.5 515.1L405.9 515.3L406.3 515.6L406.7 515.8L407.1 516.0L407.5 516.3L407.9 516.5L408.3 516.7L408.7 516.9L409.1 517.1L409.6 517.3L410.0 517.5L410.4 517.7L410.8 517.9L411.2 518.1L411.6 518.3L412.0 518.5L412.4 518.6L412.8 518.8L413.2 519.0L413.6 519.2L414.0 519.3L414.4 519.5L414.8 519.6L415.2 519.8L415.6 520.0L416.0 520.1L416.4 520.3L416.8 520.4L417.3 520.6L417.7 520.7L418.1 520.8L418.1 520.8L420.3 521.6L422.5 522.3L424.8 522.9L427.0 523.5L429.2 524.0L431.4 524.5L433.7 524.9L435.9 525.4L438.1 525.8L440.4 526.1L442.6 526.5L444.8 526.8L447.0 527.1L449.3 527.4L451.5 527.6L453.7 527.9L456.0 528.1L458.2 528.4L460.4 528.6L462.7 528.8L464.9 529.0L467.1 529.1L469.3 529.3L471.6 529.5L473.8 529.6L476.0 529.8L478.3 529.9L480.5 530.0L482.7 530.2L485.0 530.3L487.2 530.4L489.4 530.5L491.6 530.6L493.9 530.7L496.1 530.8L498.3 530.9L500.6 531.0L502.8 531.1L505.0 531.1L507.2 531.2L509.5 531.3L511.7 531.4L513.9 531.4L516.2 531.5L518.4 531.6L520.6 531.6L522.9 531.7L525.1 531.7L527.3 531.8L529.5 531.9L531.8 531.9L534.0 532.0L536.2 532.0L538.5 532.0L540.7 532.1L542.9 532.1L545.1 532.2L547.4 532.2L549.6 532.3L551.8 532.3L554.1 532.3L556.3 532.4L558.5 532.4L560.8 532.4L563.0 532.5L565.2 532.5L567.4 532.5L569.7 532.6L571.9 532.6L574.1 532.6L576.4 532.7L578.6 532.7L580.8 532.7L583.1 532.7L585.3 532.8L587.5 532.8L589.7 532.8L592.0 532.8L594.2 532.8" fill="none" stroke="#ff0000" stroke-width="1.45" clip-path="url(#c4)"/>
<text transform="translate(391.70 495.80) scale(1.13 1)" font-size="10.9">s+t+u+4vrtx</text>
<text transform="translate(376.00 525.20) scale(1.13 1)" font-size="10.9">4vrtx</text>
<path d="M145.50 301.10l1.7 -1 l2.9 7.8 l4.6 -15.1 h11.8" fill="none" stroke="#111" stroke-width="1.1"/><text transform="translate(156.00 306.60) scale(1.13 1)" font-size="12.7"><tspan font-style="italic" font-size="14.6">s</tspan> [GeV]</text>
<path d="M448.00 302.70l1.7 -1 l2.9 7.8 l4.6 -15.1 h11.8" fill="none" stroke="#111" stroke-width="1.1"/><text transform="translate(458.50 308.20) scale(1.13 1)" font-size="12.7"><tspan font-style="italic" font-size="14.6">s</tspan> [GeV]</text>
<path d="M143.20 630.00l1.7 -1 l2.9 7.8 l4.6 -15.1 h11.8" fill="none" stroke="#111" stroke-width="1.1"/><text transform="translate(153.70 635.50) scale(1.13 1)" font-size="12.7"><tspan font-style="italic" font-size="14.6">s</tspan> [GeV]</text>
<path d="M445.70 625.80l1.7 -1 l2.9 7.8 l4.6 -15.1 h11.8" fill="none" stroke="#111" stroke-width="1.1"/><text transform="translate(456.20 631.30) scale(1.13 1)" font-size="12.7"><tspan font-style="italic" font-size="14.6">s</tspan> [GeV]</text>
<g transform="translate(87.90 15.90)"><text x="0.61" y="0.00" font-size="13.52" font-style="italic">λ</text><text x="6.21" y="4.10" font-size="9.9">hhh</text><text x="27.09" y="0.00" font-size="13.0">/</text><text x="33.50" y="0.00" font-size="13.52" font-style="italic">λ</text><text x="39.50" y="4.10" font-size="9.9">hhh</text><text x="40.44" y="-5.50" font-size="9.9">SM</text><text x="59.54" y="0.00" font-size="13.0">=</text><text x="70.51" y="0.00" font-size="13.0">7</text></g>
<g transform="translate(189.20 15.90)"><text x="0.61" y="0.00" font-size="13.52" font-style="italic">λ</text><text x="6.21" y="4.10" font-size="9.9">hhhh</text><text x="31.76" y="0.00" font-size="13.0">=</text><text x="43.61" y="0.00" font-size="13.52" font-style="italic">λ</text><text x="49.61" y="4.10" font-size="9.9">hhhh</text><text x="50.54" y="-5.50" font-size="9.9">SM</text></g>
<g transform="translate(441.00 14.80)"><text x="0.61" y="0.00" font-size="13.52" font-style="italic">λ</text><text x="6.21" y="4.10" font-size="9.9">hhhh</text><text x="31.76" y="0.00" font-size="13.0">=</text><text x="43.61" y="0.00" font-size="13.52" font-style="italic">λ</text><text x="49.61" y="4.10" font-size="9.9">hhhh</text><text x="50.54" y="-5.50" font-size="9.9">SM</text></g>
<g transform="translate(82.20 347.70)"><text x="0.61" y="0.00" font-size="13.52" font-style="italic">λ</text><text x="6.21" y="4.10" font-size="9.9">hhh</text><text x="26.25" y="0.00" font-size="13.0">=</text><text x="38.10" y="0.00" font-size="13.52" font-style="italic">λ</text><text x="44.10" y="4.10" font-size="9.9">hhh</text><text x="45.04" y="-5.50" font-size="9.9">SM</text></g>
<g transform="translate(166.50 347.70)"><text x="0.61" y="0.00" font-size="13.52" font-style="italic">λ</text><text x="6.21" y="4.10" font-size="9.9">hhhh</text><text x="32.59" y="0.00" font-size="13.0">/</text><text x="39.01" y="0.00" font-size="13.52" font-style="italic">λ</text><text x="45.01" y="4.10" font-size="9.9">hhhh</text><text x="45.94" y="-5.50" font-size="9.9">SM</text><text x="70.55" y="0.00" font-size="13.0">=</text><text x="81.53" y="0.00" font-size="13.0">65</text></g>
<g transform="translate(444.60 342.70)"><text x="0.61" y="0.00" font-size="13.52" font-style="italic">λ</text><text x="6.21" y="4.10" font-size="9.9">hhh</text><text x="26.25" y="0.00" font-size="13.0">=</text><text x="38.10" y="0.00" font-size="13.52" font-style="italic">λ</text><text x="44.10" y="4.10" font-size="9.9">hhh</text><text x="45.04" y="-5.50" font-size="9.9">SM</text></g>
<g transform="translate(321.60 178.40) scale(1.06 1) rotate(-90)"><text x="0.72" y="0.00" font-size="15.840000000000002" font-style="italic">λ</text><text x="6.89" y="3.44" font-size="10.7">hhh</text><text x="29.58" y="0.00" font-size="14.4">/</text><text x="36.71" y="0.00" font-size="15.840000000000002" font-style="italic">λ</text><text x="43.32" y="3.44" font-size="10.7">hhh</text><text x="47.23" y="-6.78" font-size="10.7">SM</text></g>
<g transform="translate(320.00 508.50) scale(1.06 1) rotate(-90)"><text x="0.72" y="0.00" font-size="15.840000000000002" font-style="italic">λ</text><text x="6.89" y="3.44" font-size="10.7">hhhh</text><text x="35.53" y="0.00" font-size="14.4">/</text><text x="42.66" y="0.00" font-size="15.840000000000002" font-style="italic">λ</text><text x="49.27" y="3.44" font-size="10.7">hhhh</text><text x="53.18" y="-6.78" font-size="10.7">SM</text></g>
<g transform="translate(18.40 181.60) rotate(-90)"><text transform="translate(-0.81 -2.70) scale(1 1.030)" font-size="13.5">|</text><text transform="translate(1.42 0.00) scale(1 1.330)" font-size="12.6">R</text><text transform="translate(11.21 0.00) scale(1 1.330)" font-size="12.6">e</text><text transform="translate(25.23 -1.60) scale(1 1.330)" font-size="12.0" font-style="italic">a</text><text transform="translate(31.47 1.30) scale(1 0.950)" font-size="10.5">hh</text><text transform="translate(42.51 2.20) scale(1 1.600)" font-size="12.2">→</text><text transform="translate(54.47 1.30) scale(1 0.950)" font-size="10.5">hh</text><text transform="translate(32.37 -11.00) scale(1 0.850)" font-size="11.0">0</text><text transform="translate(67.79 -2.70) scale(1 1.030)" font-size="13.5">|</text></g>
<g transform="translate(18.40 511.60) rotate(-90)"><text transform="translate(-0.81 -2.70) scale(1 1.030)" font-size="13.5">|</text><text transform="translate(1.42 0.00) scale(1 1.330)" font-size="12.6">R</text><text transform="translate(11.21 0.00) scale(1 1.330)" font-size="12.6">e</text><text transform="translate(25.23 -1.60) scale(1 1.330)" font-size="12.0" font-style="italic">a</text><text transform="translate(31.47 1.30) scale(1 0.950)" font-size="10.5">hh</text><text transform="translate(42.51 2.20) scale(1 1.600)" font-size="12.2">→</text><text transform="translate(54.47 1.30) scale(1 0.950)" font-size="10.5">hh</text><text transform="translate(32.37 -11.00) scale(1 0.850)" font-size="11.0">0</text><text transform="translate(67.79 -2.70) scale(1 1.030)" font-size="13.5">|</text></g>
</g>
</svg>
</body></html>
